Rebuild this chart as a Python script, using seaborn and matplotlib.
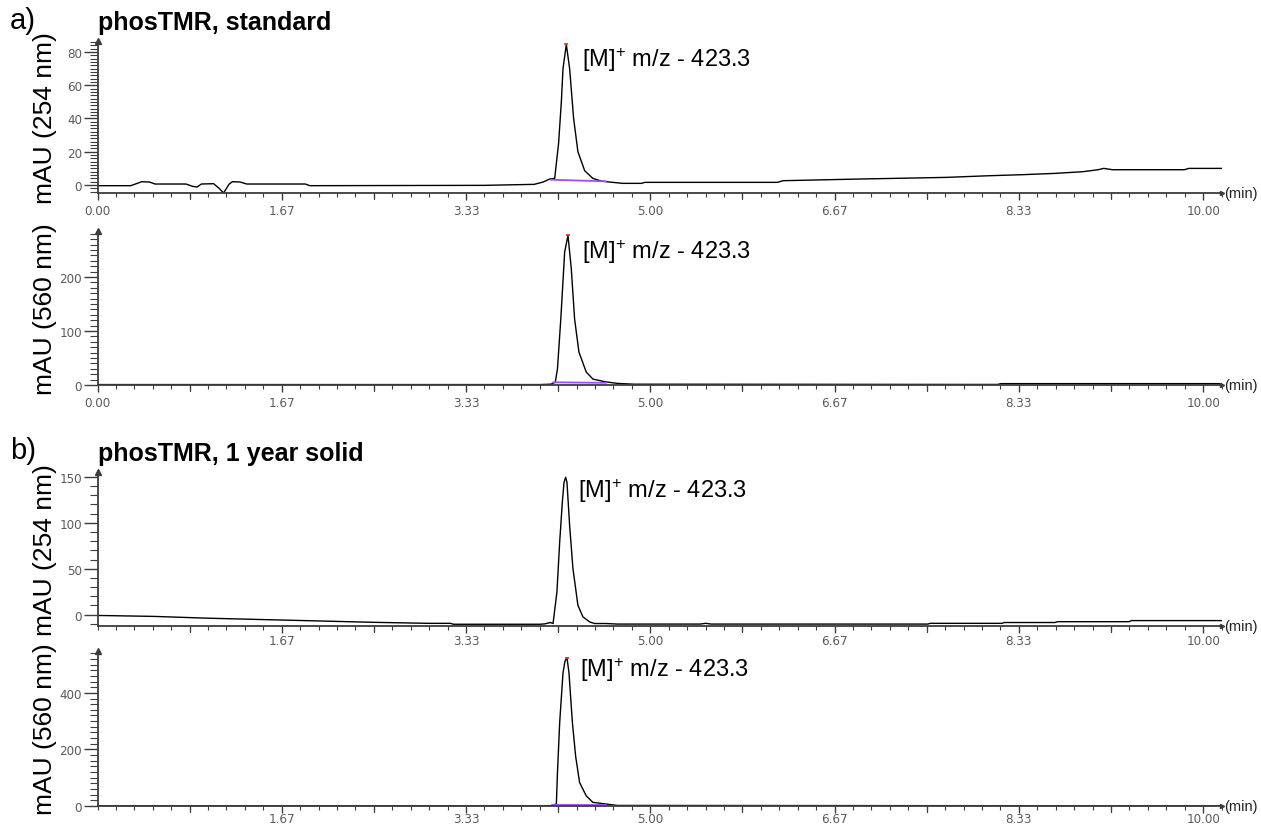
import matplotlib
matplotlib.use("Agg")
import matplotlib.pyplot as plt
import matplotlib.transforms as mtrans
from matplotlib.ticker import FixedLocator, MultipleLocator, NullFormatter
import seaborn as sns

# ---------------- chromatogram data (time in min, absorbance in mAU) ----------------
t_a254 = [0.00, 0.30, 0.36, 0.40, 0.47, 0.52, 0.80, 0.86, 0.90, 0.94, 1.05, 1.10,
          1.14, 1.19, 1.22, 1.29, 1.35, 1.88, 1.92, 3.50, 3.95, 4.03, 4.09, 4.135,
          4.17, 4.195, 4.21, 4.24, 4.27, 4.306, 4.345, 4.406, 4.48, 4.55, 4.60,
          4.75, 4.92, 4.95, 6.15, 6.20, 6.89, 7.37, 7.68, 8.07, 8.36, 8.66, 8.91,
          9.05, 9.10, 9.18, 9.83, 9.87, 10.17]
mau_a254 = [-0.4, -0.4, 1.0, 2.0, 1.8, 0.6, 0.6, -0.8, -1.2, 0.6, 0.8, -2.0,
            -4.8, 0.5, 2.0, 1.8, 0.6, 0.6, -0.4, -0.2, 0.4, 1.8, 3.6, 4.0,
            25.0, 50.0, 70.0, 84.5, 70.0, 40.0, 20.0, 8.6, 4.0, 2.5, 2.0,
            1.0, 1.0, 1.6, 1.6, 2.6, 3.6, 4.2, 4.6, 5.6, 6.2, 7.0, 8.0,
            9.2, 10.0, 9.2, 9.2, 10.0, 10.0]

t_a560 = [0.00, 4.00, 4.10, 4.14, 4.16, 4.19, 4.225, 4.255, 4.285, 4.315, 4.354,
          4.42, 4.48, 4.59, 4.70, 4.85, 8.14, 8.17, 10.17]
mau_a560 = [0.8, 0.8, 1.5, 5.0, 30.0, 122.0, 246.0, 277.0, 215.0, 122.0, 61.0,
            24.0, 11.0, 6.0, 3.0, 1.5, 1.0, 2.5, 2.5]

t_b254 = [0.00, 0.50, 1.00, 1.50, 2.00, 2.50, 3.00, 3.19, 3.22, 4.00, 4.045, 4.096,
          4.12, 4.155, 4.18, 4.204, 4.219, 4.234, 4.246, 4.27, 4.30, 4.345, 4.39,
          4.45, 4.496, 4.60, 4.70, 5.45, 5.50, 5.55, 7.51, 7.53, 8.18, 8.20, 8.66,
          8.68, 9.33, 9.35, 10.17]
mau_b254 = [-1.0, -2.0, -4.0, -5.5, -7.0, -8.5, -9.6, -9.6, -10.6, -10.6, -10.2, -8.7,
            -9.8, 24.6, 79.0, 122.5, 144.0, 149.7, 144.0, 97.0, 50.0, 10.0, -2.5,
            -8.0, -9.8, -9.8, -10.4, -10.4, -9.6, -10.4, -10.4, -9.6, -9.6, -8.7, -8.7,
            -7.8, -7.8, -6.6, -6.6]

t_b560 = [0.00, 4.10, 4.15, 4.16, 4.18, 4.21, 4.228, 4.246, 4.264, 4.295, 4.324,
          4.36, 4.42, 4.48, 4.60, 4.70, 10.17]
mau_b560 = [0.5, 1.0, 7.0, 119.0, 295.0, 471.0, 512.0, 524.0, 471.0, 295.0, 177.0,
            83.0, 36.0, 13.0, 7.0, 2.0, 0.5]

# integration baselines (start / end time and level)
int_a254 = ([4.10, 4.60], [3.2, 2.2])
int_a560 = ([4.12, 4.60], [5.0, 4.0])
int_b560 = ([4.11, 4.60], [3.0, 3.0])

x_ticks = [0.0, 1.6667, 3.3333, 5.0, 6.6667, 8.3333, 10.0]
x_ticklabels = ["0.00", "1.67", "3.33", "5.00", "6.67", "8.33", "10.00"]
x_mid_ticks = [0.8333, 2.5, 4.1667, 5.8333, 7.5, 9.1667]

y_ticks_a254 = [0, 20, 40, 60, 80]
y_ticks_a560 = [0, 100, 200]
y_ticks_b254 = [0, 50, 100, 150]
y_ticks_b560 = [0, 200, 400]

ylabels = ["mAU (254 nm)", "mAU (560 nm)", "mAU (254 nm)", "mAU (560 nm)"]
peak_label = r"[M]$^{+}$ m/z - 423.3"
titles = ["phosTMR, standard", "phosTMR, 1 year solid"]

# ---------------- styling ----------------
sns.set_theme(style="white")
plt.rcParams["font.family"] = ["Liberation Sans", "DejaVu Sans"]
plt.rcParams["text.color"] = "black"
plt.rcParams["mathtext.fontset"] = "custom"
plt.rcParams["mathtext.rm"] = "Liberation Sans"
plt.rcParams["mathtext.it"] = "Liberation Sans"

W, H = 1261, 828
fig = plt.figure(figsize=(W / 100, H / 100), dpi=100)
fig.patch.set_facecolor("white")

left_px, right_px = 97.5, 1222.0
axis_col = "#3c3c3c"
tick_txt_col = "#5a5a5a"

panels = [
    dict(top=42, bottom=194, ylim=(-4.8, 86.6), yt=y_ticks_a254, ym=2,
         t=t_a254, y=mau_a254, integ=int_a254, red=True, first_label=True, xpad=3.2),
    dict(top=232, bottom=386, ylim=(0, 285), yt=y_ticks_a560, ym=10,
         t=t_a560, y=mau_a560, integ=int_a560, red=True, first_label=True, xpad=3.2),
    dict(top=473, bottom=627, ylim=(-12.5, 155.4), yt=y_ticks_b254, ym=10,
         t=t_b254, y=mau_b254, integ=None, red=False, first_label=False, xpad=0.8),
    dict(top=652, bottom=807, ylim=(0, 548), yt=y_ticks_b560, ym=20,
         t=t_b560, y=mau_b560, integ=int_b560, red=True, first_label=False, xpad=-0.8),
]
label_y_px = [60, 252, 491, 670]
label_x_px = [582, 582, 578, 580]

for i, p in enumerate(panels):
    h_px = p["bottom"] - p["top"]
    ax = fig.add_axes([left_px / W, 1 - p["bottom"] / H,
                       (right_px - left_px) / W, h_px / H])
    ax.set_facecolor("white")

    # chromatogram trace
    sns.lineplot(x=p["t"], y=p["y"], ax=ax, color="black", lw=1.0,
                 estimator=None, sort=False)
    # integration baseline
    if p["integ"] is not None:
        sns.lineplot(x=p["integ"][0], y=p["integ"][1], ax=ax, color="#9b4dff",
                     lw=1.3, estimator=None, sort=False)
    # apex marker
    if p["red"]:
        k = p["y"].index(max(p["y"]))
        ax.plot([p["t"][k]], [p["y"][k]], marker="_", color="#e03030", ms=3, mew=1.2)

    ax.set_xlim(0, 10.17)
    ax.set_ylim(*p["ylim"])

    for s in ["top", "right"]:
        ax.spines[s].set_visible(False)
    for s in ["left", "bottom"]:
        ax.spines[s].set_color(axis_col)
        ax.spines[s].set_linewidth(1.3)

    # x ticks
    if p["first_label"]:
        ax.xaxis.set_major_locator(FixedLocator(x_ticks))
        ax.set_xticklabels(x_ticklabels)
    else:
        ax.xaxis.set_major_locator(FixedLocator(x_ticks[1:]))
        ax.set_xticklabels(x_ticklabels[1:])
    ax.xaxis.set_minor_locator(MultipleLocator(1 / 6))
    ax.tick_params(axis="x", which="major", direction="out", length=5, width=1,
                   color=axis_col, pad=p["xpad"], labelsize=9.5,
                   labelcolor=tick_txt_col, bottom=True)
    ax.tick_params(axis="x", which="minor", direction="out", length=3, width=0.8,
                   color=axis_col, bottom=True)
    # intermediate x ticks
    trans = mtrans.blended_transform_factory(ax.transData, ax.transAxes)
    d = 5.5 / h_px
    for xm in x_mid_ticks:
        ax.plot([xm, xm], [0, -d], transform=trans, color=axis_col, lw=0.9,
                clip_on=False)

    # y ticks
    ax.yaxis.set_major_locator(FixedLocator(p["yt"]))
    ax.set_yticklabels([str(v) for v in p["yt"]])
    ax.yaxis.set_minor_locator(MultipleLocator(p["ym"]))
    ax.yaxis.set_minor_formatter(NullFormatter())
    ax.tick_params(axis="y", which="major", direction="out", length=10, width=1,
                   color=axis_col, pad=1, labelsize=9.5, labelcolor=tick_txt_col,
                   left=True)
    ax.tick_params(axis="y", which="minor", direction="out", length=5.5, width=0.8,
                   color=axis_col, left=True)
    for lab in ax.get_xticklabels() + ax.get_yticklabels():
        lab.set_family("DejaVu Sans")
        lab.set_stretch("condensed")

    ax.set_xlabel("")
    ax.set_ylabel("")

    # axis arrows
    ax.plot([0], [1], marker="^", transform=ax.transAxes, clip_on=False,
            color=axis_col, ms=5)
    ax.plot([1], [0], marker=">", transform=ax.transAxes, clip_on=False,
            color=axis_col, ms=3)
    ax.text(1.002, 0, "(min)", transform=ax.transAxes, ha="left", va="center",
            fontsize=10.5, color="#222222")

    # y axis title
    fig.text(45 / W, 1 - (p["top"] + p["bottom"]) / 2 / H, ylabels[i],
             rotation=90, ha="center", va="center", fontsize=19, color="black")

    # peak annotation
    fig.text(label_x_px[i] / W, 1 - label_y_px[i] / H, peak_label,
             ha="left", va="center", fontsize=17, color="black")

# panel letters and sample titles
fig.text(10 / W, 1 - 21 / H, "a)", ha="left", va="center", fontsize=21)
fig.text(98 / W, 1 - 23 / H, titles[0], ha="left", va="center", fontsize=18,
         fontweight="bold")
fig.text(10 / W, 1 - 451 / H, "b)", ha="left", va="center", fontsize=21)
fig.text(98 / W, 1 - 454 / H, titles[1], ha="left", va="center", fontsize=18,
         fontweight="bold")

fig.savefig("out.png", dpi=100, facecolor="white")
